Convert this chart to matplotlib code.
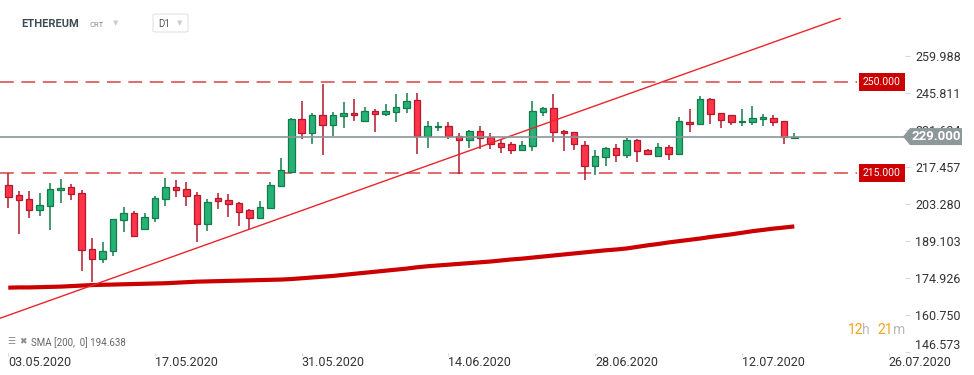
import matplotlib
matplotlib.use('Agg')
import matplotlib.pyplot as plt
import matplotlib.transforms as mtransforms
from matplotlib.patches import Polygon, FancyBboxPatch
import numpy as np

plt.rcParams['font.family'] = ['Roboto', 'DejaVu Sans']

# daily candles ETHEREUM D1, 03.05.2020 .. 17.07.2020
opens = [210.3, 206.5, 205.2, 201.1, 202.6, 208.6, 209.8, 207.5, 185.9, 182.2,
         185.1, 196.9, 199.6, 193.5, 198.0, 205.2, 209.8, 209.0, 206.7, 195.4,
         205.6, 204.9, 203.7, 201.1, 197.7, 201.8, 210.0, 215.3, 235.9, 230.5,
         237.4, 233.6, 237.0, 238.2, 235.1, 238.9, 237.8, 238.5, 240.0, 243.1,
         229.4, 232.5, 233.2, 229.1, 227.6, 231.0, 228.7, 226.4, 226.0, 223.8,
         225.3, 238.5, 240.0, 231.0, 230.6, 225.7, 217.7, 221.1, 224.5, 221.9,
         227.6, 223.8, 221.5, 224.9, 222.3, 234.7, 234.0, 243.4, 238.2, 237.4,
         234.4, 234.7, 235.9, 236.3, 235.1, 228.3]
highs = [215.1, 208.0, 208.0, 207.3, 211.4, 212.9, 210.7, 208.4, 190.2, 188.6,
         197.3, 202.2, 200.7, 199.6, 206.1, 213.3, 212.2, 211.8, 207.9, 205.2,
         207.6, 206.9, 203.9, 201.4, 204.2, 211.7, 220.7, 236.0, 242.8, 238.2,
         249.1, 238.5, 242.4, 243.4, 240.5, 239.7, 241.3, 245.3, 245.8, 245.8,
         235.1, 234.4, 234.4, 230.2, 231.7, 232.9, 230.2, 227.9, 226.8, 227.2,
         242.7, 240.4, 245.1, 231.7, 230.6, 227.2, 223.8, 224.9, 226.0, 228.3,
         227.9, 224.2, 226.5, 225.7, 236.6, 239.7, 244.6, 243.8, 238.2, 237.4,
         239.7, 240.8, 237.8, 237.4, 235.1, 230.2]
lows = [201.7, 191.9, 197.9, 198.7, 193.4, 203.6, 204.7, 177.5, 173.3, 180.5,
        183.5, 192.6, 190.7, 193.3, 196.4, 202.5, 206.0, 202.5, 188.5, 193.0,
        201.3, 198.3, 194.9, 193.5, 197.3, 201.4, 210.0, 215.2, 228.2, 226.3,
        221.8, 229.3, 232.3, 235.1, 234.7, 230.8, 237.0, 234.6, 238.2, 222.5,
        224.5, 231.0, 227.9, 214.6, 224.8, 224.2, 224.2, 222.9, 222.3, 223.5,
        223.4, 237.0, 227.0, 223.6, 224.0, 212.4, 214.3, 217.7, 219.2, 220.7,
        219.2, 221.9, 221.5, 220.0, 222.2, 230.8, 233.8, 234.0, 232.1, 233.6,
        232.9, 233.6, 233.2, 233.2, 226.3, 228.3]
closes = [205.9, 204.9, 201.1, 203.0, 209.0, 209.4, 207.1, 185.6, 182.2, 185.2,
          197.3, 199.6, 191.1, 198.4, 205.6, 209.8, 208.6, 206.4, 195.4, 204.1,
          204.5, 203.3, 200.3, 197.7, 202.2, 210.5, 216.2, 235.9, 230.5, 237.4,
          233.6, 237.4, 238.2, 237.4, 238.9, 237.8, 238.9, 240.4, 242.7, 229.4,
          232.9, 233.2, 229.1, 227.6, 231.0, 228.3, 226.0, 224.9, 223.8, 225.7,
          238.9, 239.9, 230.6, 230.2, 226.0, 217.7, 221.5, 224.5, 221.9, 227.6,
          223.4, 222.3, 224.9, 222.3, 235.1, 234.0, 243.4, 237.8, 235.5, 234.7,
          235.1, 236.3, 236.6, 234.7, 228.7, 229.0]
sma200 = [171.2, 171.3, 171.3, 171.4, 171.5, 171.6, 171.8, 172.0, 172.2, 172.3,
          172.4, 172.5, 172.6, 172.7, 172.8, 172.9, 173.1, 173.3, 173.5, 173.6,
          173.7, 173.8, 173.9, 174.0, 174.1, 174.2, 174.3, 174.5, 174.8, 175.1,
          175.4, 175.7, 176.1, 176.5, 176.9, 177.3, 177.7, 178.1, 178.5, 179.0,
          179.4, 179.7, 180.0, 180.3, 180.6, 180.9, 181.2, 181.6, 182.0, 182.3,
          182.7, 183.1, 183.5, 183.9, 184.3, 184.7, 185.1, 185.5, 185.8, 186.2,
          186.8, 187.4, 187.9, 188.5, 189.0, 189.5, 190.0, 190.6, 191.1, 191.6,
          192.2, 192.8, 193.3, 193.8, 194.2, 194.638]

date_ticks = [0, 14, 28, 42, 56, 70, 84]
date_labels = ['03.05.2020', '17.05.2020', '31.05.2020', '14.06.2020',
               '28.06.2020', '12.07.2020', '26.07.2020']
price_ticks = [259.988, 245.811, 231.634, 217.457, 203.280, 189.103,
               174.926, 160.750, 146.573]
resistance = 250.0
support = 215.0
last_price = 229.0
trend_x = [-0.79, 79.36]
trend_y = [159.5, 274.2]

W, H = 974, 375
fig = plt.figure(figsize=(W / 100, H / 100), dpi=100)
ax = fig.add_axes([0, 1 - 353 / H, 905 / W, 353 / H])
ax.set_xlim(-0.79, 85.56)
ax.set_ylim(146.21, 281.25)
for s in ax.spines.values():
    s.set_visible(False)

o = np.array(opens); h = np.array(highs); l = np.array(lows); c = np.array(closes)
x = np.arange(len(o))
up = c >= o
face = np.where(up, '#25b275', '#ff3448')
edge = np.where(up, '#167a4c', '#b3192c')

# sma and drawings
ax.plot(np.arange(len(sma200)), sma200, color='#cc0000', lw=3, zorder=2,
        solid_capstyle='butt')
ax.hlines([resistance, support], -0.79, 81.0, colors='#d62020', lw=1.1,
          linestyles=(0, (9, 5)), alpha=0.85, zorder=2)

ax.vlines(x, l, h, colors=edge, lw=1.1, zorder=3)
ax.bar(x, np.maximum(np.abs(c - o), 0.35), bottom=np.minimum(o, c), width=0.62,
       color=face, edgecolor=edge, lw=0.9, zorder=4)

ax.plot(trend_x, trend_y, color='#e8262b', lw=1.0, zorder=5)
ax.axhline(last_price, color='#8a9597', lw=1.2, zorder=5)

for lvl in [resistance, support]:
    ax.text(85.15, lvl, f'{lvl:.3f}', ha='right', va='center', color='white',
            fontsize=7.5, zorder=7,
            bbox=dict(boxstyle='square,pad=0.38', fc='#cc0000', ec='none'))

# last price marker on the axis
tr = mtransforms.blended_transform_factory(ax.transAxes, ax.transData)
aw = 905.0
hh = 8.5 / 2.614
pts = [(903 / aw, last_price), (910 / aw, last_price + hh), (962 / aw, last_price + hh),
       (962 / aw, last_price - hh), (910 / aw, last_price - hh)]
ax.add_patch(Polygon(pts, closed=True, transform=tr, clip_on=False,
                     fc='#8d9899', ec='none', zorder=8))
ax.text(936 / aw, last_price, f'{last_price:.3f}', transform=tr, ha='center',
        va='center', color='white', fontsize=9.5, fontweight='bold', zorder=9,
        clip_on=False)

# axes ticks
ax.yaxis.tick_right()
ax.set_yticks(price_ticks)
ax.set_yticklabels([f'{v:.3f}' for v in price_ticks])
ax.tick_params(axis='y', right=True, length=3.5, width=0.8, color='#d8d8d8',
               labelcolor='#333333', labelsize=9, pad=4)
ylabs = ax.get_yticklabels()
ylabs[-1].set_transform(ylabs[-1].get_transform() +
                        mtransforms.ScaledTranslation(0, 0.08, fig.dpi_scale_trans))
ax.set_xticks(date_ticks)
ax.set_xticklabels(date_labels)
for t in ax.get_xticklabels():
    t.set_ha('left')
ax.tick_params(axis='x', length=2, width=0.8, color='#d8d8d8',
               labelcolor='#333333', labelsize=9, pad=0.5)

# header
fig.text(21 / W, 1 - 24 / H, 'ETHEREUM', fontsize=8, fontweight='bold',
         color='#3f4b53', va='center')
fig.text(90 / W, 1 - 25 / H, 'CRT', fontsize=5.5, color='#7f8c99', va='center')
fig.text(113 / W, 1 - 23 / H, '▼', fontsize=5, color='#c8ccd0', va='center',
         family='DejaVu Sans')
fig.add_artist(FancyBboxPatch((153 / W, 1 - 32 / H), 35 / W, 18 / H,
                              boxstyle='round,pad=0,rounding_size=0.003',
                              transform=fig.transFigure, fc='white',
                              ec='#dfe3e6', lw=0.8))
fig.text(158 / W, 1 - 24 / H, 'D1', fontsize=7, color='#555555', va='center')
fig.text(177 / W, 1 - 23 / H, '▼', fontsize=5, color='#c8ccd0', va='center',
         family='DejaVu Sans')

# indicator legend and countdown
fig.text(7 / W, 1 - 342 / H, '☰', fontsize=6.5, color='#8a8a8a', va='center',
         family='DejaVu Sans')
fig.text(19 / W, 1 - 342 / H, '✖', fontsize=6.5, color='#8a8a8a', va='center',
         family='DejaVu Sans')
fig.text(31 / W, 1 - 343 / H, 'SMA [200,  0] 194.638', fontsize=7,
         color='#666666', va='center')
fig.text(848 / W, 1 - 330 / H, '12', fontsize=10, color='#f5a11c', va='center')
fig.text(862 / W, 1 - 330 / H, 'h', fontsize=10, color='#b8b8b8', va='center')
fig.text(877 / W, 1 - 330 / H, '21', fontsize=10, color='#f5a11c', va='center')
fig.text(893 / W, 1 - 330 / H, 'm', fontsize=10, color='#b8b8b8', va='center')

fig.savefig('out.png', dpi=100, facecolor='white')
